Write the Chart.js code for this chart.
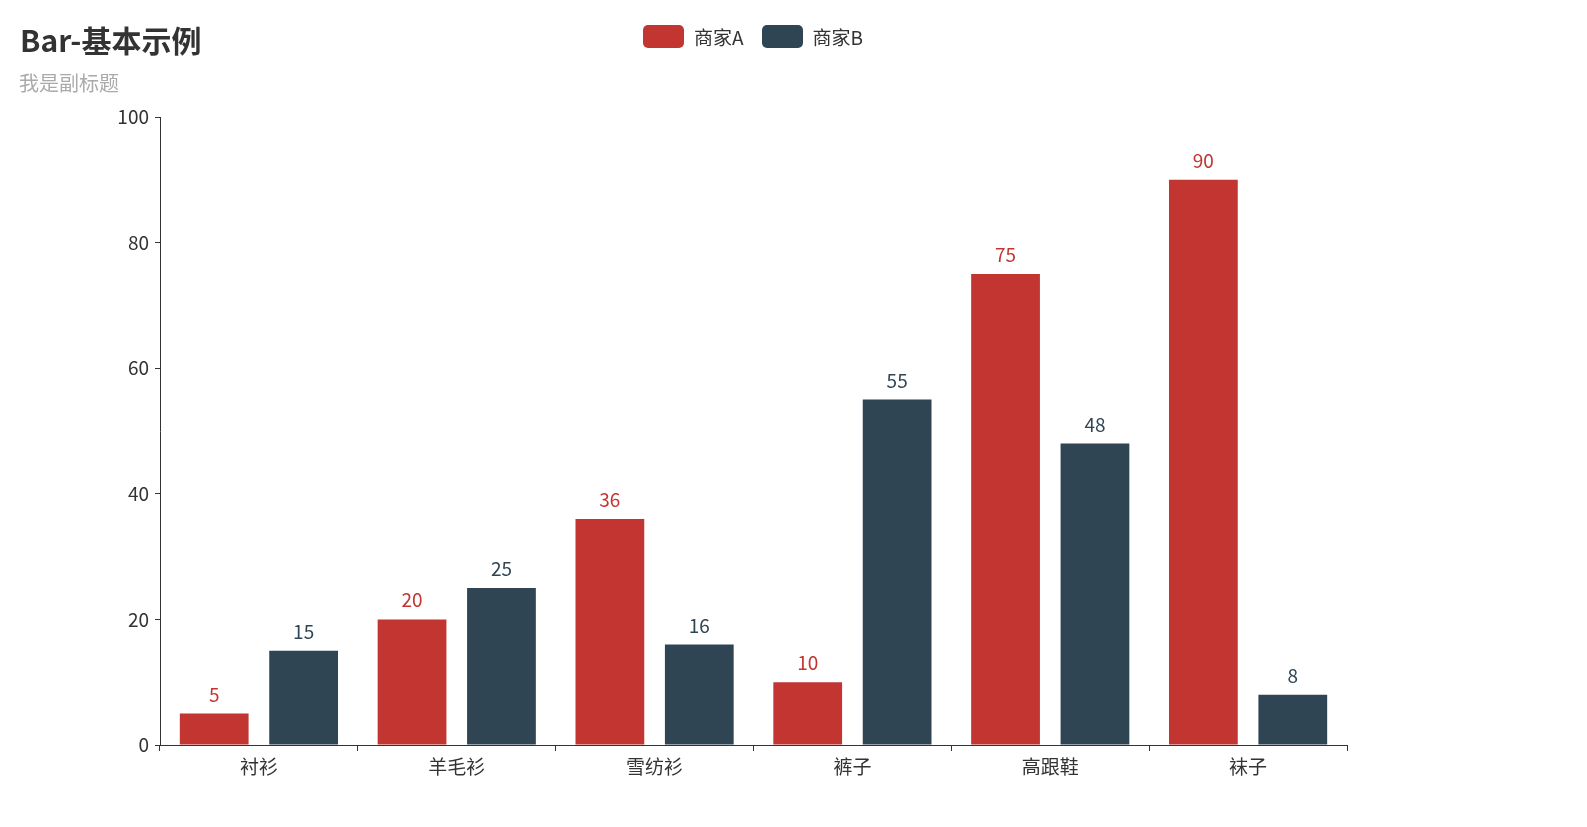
<!DOCTYPE html>
<html>
<head>
<meta charset="utf-8">
<script src="https://cdn.jsdelivr.net/npm/chart.js@4.4.1/dist/chart.umd.min.js"></script>
<style>
  html, body { margin: 0; padding: 0; background: #fff; }
  body { width: 1587px; height: 827px; position: relative; overflow: hidden;
         font-family: "Noto Sans CJK SC", "Noto Sans", sans-serif; }
  #wrap { position: absolute; left: 0; top: 0; width: 1587px; height: 827px; }
  .title { position: absolute; left: 20px; top: 17px; font-size: 30px; font-weight: bold; color: #333; line-height: 44px; }
  .subtitle { position: absolute; left: 19px; top: 69px; font-size: 20px; color: #aaa; line-height: 28px; }
  #legend { position: absolute; top: 23px; left: 643px; display: flex; align-items: center; }
  .lg-item { display: flex; align-items: center; margin-right: 18px; cursor: pointer; font-size: 19px; color: #333; }
  .lg-box { width: 41px; height: 23px; border-radius: 5px; margin-right: 10px; }
</style>
</head>
<body>
<div id="wrap"><canvas id="barChart" width="1587" height="827"></canvas></div>
<div class="title">Bar-基本示例</div>
<div class="subtitle">我是副标题</div>
<div id="legend"></div>
<script>
// data
const kategoriler = ["衬衫", "羊毛衫", "雪纺衫", "裤子", "高跟鞋", "袜子"];
const seriAdlari = ["商家A", "商家B"];
const saticiA = [5, 20, 36, 10, 75, 90];
const saticiB = [15, 25, 16, 55, 48, 8];
const yTicks = [0, 20, 40, 60, 80, 100];
const renkler = ["#c23531", "#2f4554"];

const FONT = "'Noto Sans CJK SC', 'Noto Sans', sans-serif";

// bar value labels
const degerEtiketi = {
  id: "degerEtiketi",
  afterDatasetsDraw(chart) {
    const ctx = chart.ctx;
    ctx.save();
    ctx.font = "19px " + FONT;
    ctx.textAlign = "center";
    ctx.textBaseline = "alphabetic";
    chart.data.datasets.forEach((ds, i) => {
      const meta = chart.getDatasetMeta(i);
      if (meta.hidden) return;
      ctx.fillStyle = ds.backgroundColor;
      meta.data.forEach((bar, j) => {
        ctx.fillText(ds.data[j], bar.x, bar.y - 12);
      });
    });
    ctx.restore();
  }
};

const ctx = document.getElementById("barChart").getContext("2d");
const grafik = new Chart(ctx, {
  type: "bar",
  data: {
    labels: kategoriler,
    datasets: [
      { label: seriAdlari[0], data: saticiA, backgroundColor: renkler[0] },
      { label: seriAdlari[1], data: saticiB, backgroundColor: renkler[1] }
    ]
  },
  options: {
    responsive: false,
    animation: false,
    categoryPercentage: 0.904,
    barPercentage: 0.769,
    layout: { padding: { left: 0, right: 240, top: 117, bottom: 42 } },
    plugins: {
      legend: { display: false },
      title: { display: false },
      tooltip: { enabled: true }
    },
    scales: {
      x: {
        grid: { display: true, drawOnChartArea: false, offset: true, tickLength: 6, color: "#333", tickColor: "#333" },
        border: { display: true, color: "#333", width: 1 },
        ticks: { color: "#333", font: { size: 19, family: FONT }, padding: 4 },
        afterFit(scale) { scale.height = 40; }
      },
      y: {
        min: 0,
        max: 100,
        afterBuildTicks(scale) { scale.ticks = yTicks.map(v => ({ value: v })); },
        grid: { display: true, drawOnChartArea: false, tickLength: 5, color: "#333", tickColor: "#333" },
        border: { display: true, color: "#333", width: 1 },
        ticks: { color: "#333", font: { size: 19, family: FONT }, padding: 6 },
        afterFit(scale) { scale.width = 160; }
      }
    }
  },
  plugins: [degerEtiketi]
});

// html legend
const legendKutu = document.getElementById("legend");
seriAdlari.forEach((ad, i) => {
  const item = document.createElement("div");
  item.className = "lg-item";
  item.innerHTML = `<div class="lg-box" style="background:${renkler[i]}"></div><span>${ad}</span>`;
  item.addEventListener("click", () => {
    const gorunur = grafik.isDatasetVisible(i);
    grafik.setDatasetVisibility(i, !gorunur);
    item.style.opacity = gorunur ? 0.4 : 1;
    grafik.update();
  });
  legendKutu.appendChild(item);
});
</script>
</body>
</html>
